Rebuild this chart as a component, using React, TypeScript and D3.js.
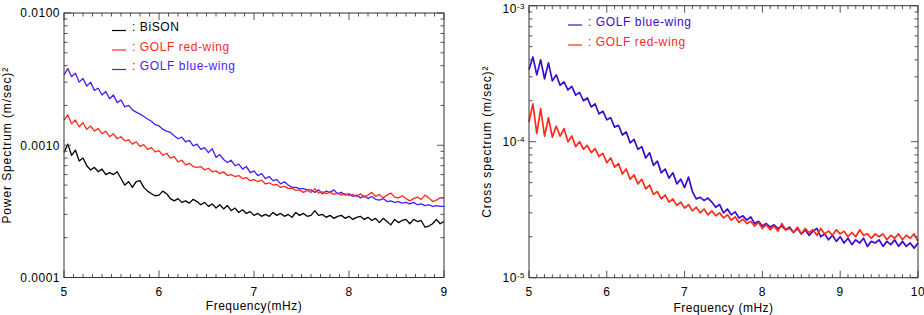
import React from "react";
import * as d3 from "d3";

// Left panel: power spectra, 5-9 mHz sampled every 0.04 mHz, values in units of 1e-4 (m/sec)^2
const leftStart = 5;
const leftStep = 0.04;
const leftUnit = 1e-4;

const bison = [
  8.8, 10.2, 8.4, 9.2, 7.6, 8.0, 7.0, 6.5, 6.8, 6.3, 6.6, 6.0, 6.2, 6.0, 6.3, 5.6, 5.0, 5.3, 4.8, 5.3,
  5.4, 4.8, 4.5, 4.3, 4.15, 4.2, 4.5, 4.3, 3.95, 3.8, 3.95, 3.7, 3.8, 3.65, 3.9, 3.75, 3.55, 3.7, 3.45, 3.6,
  3.35, 3.55, 3.3, 3.5, 3.2, 3.35, 3.1, 3.25, 3.05, 3.15, 2.95, 3.05, 2.9, 3.0, 2.9, 3.1, 2.95, 3.05, 2.9, 3.0,
  2.85, 3.1, 2.95, 3.05, 2.9, 2.95, 3.2, 2.95, 3.0, 2.85, 2.95, 2.8, 2.9, 2.95, 2.8, 2.9, 2.75, 2.85, 2.9, 2.75,
  2.85, 2.7, 2.8, 2.6, 2.8, 2.65, 2.5, 2.75, 2.6, 2.7, 2.75, 2.55, 2.75, 2.65, 2.7, 2.4, 2.45, 2.55, 2.75, 2.55,
  2.65,
];

const golfRedL = [
  15.5, 17, 14.5, 15.5, 13.8, 14.8, 13.2, 14.0, 12.8, 13.4, 12.2, 12.8, 11.6, 12.2, 11.2, 11.6, 10.8, 11.0, 10.2, 10.6,
  9.8, 10.1, 9.3, 9.6, 8.9, 9.1, 8.4, 8.7, 8.0, 8.2, 7.5, 7.7, 7.1, 7.3, 6.9, 6.8, 6.9, 6.5, 6.7, 6.3,
  6.4, 6.1, 6.3, 5.9, 6.0, 5.8, 5.9, 5.6, 5.7, 5.4, 5.5, 5.3, 5.45, 5.1, 5.2, 5.0, 5.05, 4.8, 4.9, 4.7,
  4.75, 4.55, 4.6, 4.4, 4.55, 4.4, 4.7, 4.35, 4.45, 4.3, 4.4, 4.25, 4.35, 4.2, 4.3, 4.15, 4.25, 4.1, 4.3, 4.05,
  4.2, 4.4, 4.1, 4.25, 4.0, 4.2, 4.35, 4.05, 4.0, 4.15, 3.95, 3.8, 3.95, 4.05, 3.9, 4.2, 4.0, 3.75, 3.85, 4.0,
  4.0,
];

const golfBlueL = [
  34, 38, 33, 35, 30, 32, 28, 30, 26, 27, 24, 25.5, 22.5, 24, 21, 22, 19.5, 20, 18.5, 17.8,
  17.2, 16.5, 15.8, 15.2, 14.3, 14.0, 13.2, 12.8, 12.5, 11.8, 11.2, 11.5, 10.6, 10.9, 9.9, 10.2, 9.3, 9.6, 8.8, 9.4,
  8.1, 8.5, 7.8, 7.4, 7.7, 7.0, 7.2, 6.6, 6.9, 6.2, 6.4, 5.9, 6.1, 5.6, 5.8, 5.4, 5.5, 5.1, 5.3, 5.0,
  4.8, 4.8, 4.7, 4.7, 4.6, 4.6, 4.4, 4.6, 4.3, 4.5, 4.4, 4.6, 4.3, 4.4, 4.2, 4.3, 4.1, 4.2, 4.0, 4.15,
  3.95, 4.1, 3.9, 3.85, 3.95, 3.75, 3.8, 3.7, 3.75, 3.65, 3.7, 3.6, 3.7, 3.55, 3.6, 3.5, 3.55, 3.45, 3.5, 3.45,
  3.45,
];

// Right panel: cross spectra, 5-10 mHz sampled every 0.05 mHz, values in units of 1e-5 (m/sec)^2
const rightStart = 5;
const rightStep = 0.05;
const rightUnit = 1e-5;

const crossBlue = [
  34, 42, 31, 40, 29, 38, 28, 31, 26, 27.5, 24, 25.5, 22, 23, 20, 21, 18, 19, 16, 16.8,
  14.5, 15, 12.8, 13.2, 11.2, 11.8, 9.8, 10.4, 8.8, 9.2, 7.6, 8.3, 6.7, 7.2, 5.9, 6.3, 5.4, 5.9, 4.9, 5.3,
  4.6, 5.5, 4.3, 3.8, 3.9, 3.7, 3.85, 3.6, 3.3, 3.45, 3.0, 3.2, 2.9, 3.05, 2.75, 2.85, 2.65, 2.8, 2.5, 2.6,
  2.4, 2.5, 2.35, 2.45, 2.3, 2.4, 2.25, 2.35, 2.15, 2.3, 2.1, 2.25, 2.05, 2.2, 2.3, 2.0, 2.1, 1.9, 2.05, 1.85,
  2.0, 1.8, 1.95, 1.75, 1.9, 1.8, 1.95, 1.7, 1.85, 1.8, 1.9, 1.7, 1.85, 1.75, 1.9, 1.7, 1.85, 1.7, 1.8, 1.65,
  1.8,
];

const crossRed = [
  14, 19, 11.5, 17.5, 11, 15, 10.8, 13, 11, 12.5, 10, 11, 9.2, 10, 8.8, 9.4, 8.3, 8.9, 7.8, 8.2,
  7.0, 7.6, 6.5, 6.9, 5.8, 6.3, 5.3, 5.7, 4.9, 5.3, 4.5, 4.8, 4.1, 4.3, 3.8, 4.05, 3.6, 3.8, 3.4, 3.6,
  3.25, 3.45, 3.1, 3.3, 3.0, 3.2, 2.9, 3.1, 2.85, 3.0, 2.75, 2.9, 2.65, 2.8, 2.55, 2.7, 2.5, 2.6, 2.4, 2.55,
  2.3, 2.45, 2.25, 2.4, 2.2, 2.5, 2.25, 2.3, 2.15, 2.35, 2.1, 2.3, 2.15, 2.25, 2.05, 2.3, 2.1, 2.2, 2.05, 2.25,
  2.1, 2.2, 2.0, 2.15, 2.0, 2.25, 2.05, 2.1, 1.95, 2.1, 2.0, 2.1, 1.9, 2.05, 1.95, 2.1, 1.9, 2.05, 1.95, 2.1,
  1.85,
];

const leftXTicks = [5, 6, 7, 8, 9];
const leftYTicks = [1e-4, 1e-3, 1e-2];
const leftYLabels = ["0.0001", "0.0010", "0.0100"];
const rightXTicks = [5, 6, 7, 8, 9, 10];
const rightYTicks = [1e-5, 1e-4, 1e-3];
const rightYExps = ["-5", "-4", "-3"];

const BLACK = "#000000";
const RED = "#ff2a1a";
const BLUE_L = "#4a1aff";
const BLUE_R = "#3a0cd0";

const FONT = "'Liberation Sans', Arial, Helvetica, sans-serif";

type Series = { values: number[]; color: string };
type LegendItem = { label: string; color: string; y: number };

interface PanelProps {
  left: number;
  right: number;
  top: number;
  bottom: number;
  xDomain: [number, number];
  yDomain: [number, number];
  start: number;
  step: number;
  unit: number;
  series: Series[];
  xTicks: number[];
  yTicks: number[];
  yTickLabel: (i: number) => React.ReactNode;
  yLabelMinY: number;
  xTitle: string;
  xTitleY: number;
  yTitle: string;
  yTitleX: number;
  legend: LegendItem[];
  legendX: number;
  lineWidth: number;
}

const Panel: React.FC<PanelProps> = (p) => {
  const x = d3.scaleLinear().domain(p.xDomain).range([p.left, p.right]);
  const y = d3.scaleLog().domain(p.yDomain).range([p.bottom, p.top]);

  const xMinor = d3
    .range(Math.round(p.xDomain[0] * 10), Math.round(p.xDomain[1] * 10) + 1)
    .map((v) => v / 10)
    .filter((v) => Math.abs(v - Math.round(v)) > 1e-6);
  const yMinor: number[] = [];
  p.yTicks.slice(0, -1).forEach((d) => {
    for (let k = 2; k <= 9; k++) yMinor.push(d * k);
  });

  const line = d3
    .line<number>()
    .x((_, i) => x(p.start + p.step * i))
    .y((d) => y(d * p.unit));

  const major = 7;
  const minor = 3.5;
  const tickColor = "#555";

  return (
    <g>
      {/* data lines */}
      {p.series.map((s, i) => (
        <path
          key={i}
          d={line(s.values) || ""}
          fill="none"
          stroke={s.color}
          strokeWidth={p.lineWidth}
          strokeLinejoin="round"
        />
      ))}

      {/* ticks, inward on all four sides */}
      <g stroke={tickColor} strokeWidth={1}>
        {p.xTicks.map((t) => (
          <g key={"xt" + t}>
            <line x1={x(t)} x2={x(t)} y1={p.bottom} y2={p.bottom - major} />
            <line x1={x(t)} x2={x(t)} y1={p.top} y2={p.top + major} />
          </g>
        ))}
        {xMinor.map((t) => (
          <g key={"xm" + t}>
            <line x1={x(t)} x2={x(t)} y1={p.bottom} y2={p.bottom - minor} />
            <line x1={x(t)} x2={x(t)} y1={p.top} y2={p.top + minor} />
          </g>
        ))}
        {p.yTicks.map((t) => (
          <g key={"yt" + t}>
            <line x1={p.left} x2={p.left + major} y1={y(t)} y2={y(t)} />
            <line x1={p.right} x2={p.right - major} y1={y(t)} y2={y(t)} />
          </g>
        ))}
        {yMinor.map((t) => (
          <g key={"ym" + t}>
            <line x1={p.left} x2={p.left + minor} y1={y(t)} y2={y(t)} />
            <line x1={p.right} x2={p.right - minor} y1={y(t)} y2={y(t)} />
          </g>
        ))}
      </g>

      {/* frame */}
      <rect
        x={p.left}
        y={p.top}
        width={p.right - p.left}
        height={p.bottom - p.top}
        fill="none"
        stroke="#333"
        strokeWidth={1}
      />

      {/* tick labels */}
      <g fontFamily={FONT} fontSize={12} fill="#000" letterSpacing={0.5}>
        {p.xTicks.map((t) => (
          <text key={"xl" + t} x={x(t)} y={p.bottom + 18} textAnchor="middle">
            {t}
          </text>
        ))}
        {p.yTicks.map((t, i) => (
          <text
            key={"yl" + t}
            x={p.left - 4}
            y={Math.max(y(t) + 4.3, p.yLabelMinY)}
            textAnchor="end"
          >
            {p.yTickLabel(i)}
          </text>
        ))}
      </g>

      {/* axis titles */}
      <text
        x={(p.left + p.right) / 2}
        y={p.xTitleY}
        textAnchor="middle"
        fontFamily={FONT}
        fontSize={12}
        letterSpacing={0.5}
      >
        {p.xTitle}
      </text>
      <text
        transform={`translate(${p.yTitleX},${(p.top + p.bottom) / 2}) rotate(-90)`}
        textAnchor="middle"
        fontFamily={FONT}
        fontSize={12}
        letterSpacing={0.9}
      >
        {p.yTitle}
      </text>

      {/* legend */}
      {p.legend.map((l) => (
        <g key={l.label}>
          <line
            x1={p.legendX}
            x2={p.legendX + 14}
            y1={l.y - 0.5}
            y2={l.y - 0.5}
            stroke={l.color}
            strokeWidth={1.2}
          />
          <text
            x={p.legendX + 20}
            y={l.y}
            fill={l.color}
            fontFamily={FONT}
            fontSize={12}
            letterSpacing={0.6}
          >
            {": " + l.label}
          </text>
        </g>
      ))}
    </g>
  );
};

export default function App() {
  return (
    <svg
      width={924}
      height={315}
      style={{ position: "fixed", left: 0, top: 0, background: "#fff" }}
    >
      <Panel
        left={64}
        right={444}
        top={13}
        bottom={277.5}
        xDomain={[5, 9]}
        yDomain={[1e-4, 1e-2]}
        start={leftStart}
        step={leftStep}
        unit={leftUnit}
        series={[
          { values: golfBlueL, color: BLUE_L },
          { values: golfRedL, color: RED },
          { values: bison, color: BLACK },
        ]}
        xTicks={leftXTicks}
        yTicks={leftYTicks}
        yTickLabel={(i) => leftYLabels[i]}
        yLabelMinY={0}
        xTitle="Frequency(mHz)"
        xTitleY={309.5}
        yTitle="Power Spectrum (m/sec)²"
        yTitleX={10.5}
        legend={[
          { label: "BiSON", color: BLACK, y: 31 },
          { label: "GOLF red-wing", color: RED, y: 50.5 },
          { label: "GOLF blue-wing", color: BLUE_L, y: 70 },
        ]}
        legendX={112}
        lineWidth={1.3}
      />
      <Panel
        left={529}
        right={918}
        top={5.7}
        bottom={277.7}
        xDomain={[5, 10]}
        yDomain={[1e-5, 1e-3]}
        start={rightStart}
        step={rightStep}
        unit={rightUnit}
        series={[
          { values: crossBlue, color: BLUE_R },
          { values: crossRed, color: RED },
        ]}
        xTicks={rightXTicks}
        yTicks={rightYTicks}
        yTickLabel={(i) => (
          <>
            <tspan>10</tspan>
            <tspan dy={-4.5} fontSize={8}>
              {rightYExps[i]}
            </tspan>
          </>
        )}
        yLabelMinY={13}
        xTitle="Frequency (mHz)"
        xTitleY={311.5}
        yTitle="Cross spectrum (m/sec)²"
        yTitleX={491}
        legend={[
          { label: "GOLF blue-wing", color: BLUE_R, y: 25.5 },
          { label: "GOLF red-wing", color: RED, y: 45.5 },
        ]}
        legendX={568}
        lineWidth={1.7}
      />
    </svg>
  );
}
